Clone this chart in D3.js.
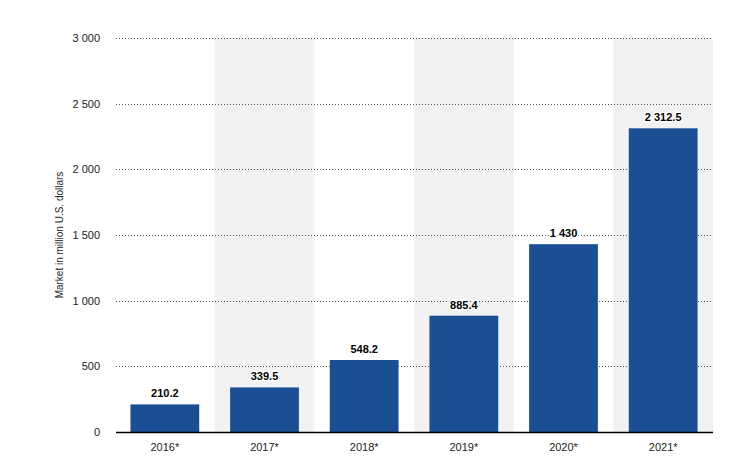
<!DOCTYPE html>
<html><head><meta charset="utf-8">
<script src="https://cdn.jsdelivr.net/npm/d3@7"></script>
<style>body{margin:0;background:#fff}svg{display:block}text{font-family:"Liberation Sans",Arial,sans-serif}</style>
</head><body><svg id="c" width="733" height="471"></svg>
<script>
const categories = ["2016*","2017*","2018*","2019*","2020*","2021*"];
const values = [210.2,339.5,548.2,885.4,1430,2312.5];
const valueLabels = ["210.2","339.5","548.2","885.4","1 430","2 312.5"];
const yTicks = [0,500,1000,1500,2000,2500,3000];
const yTickLabels = ["0","500","1 000","1 500","2 000","2 500","3 000"];
const yTitle = "Market in million U.S. dollars";

const svg = d3.select("#c");
const m = {l:115, r:20, t:38, b:39};
const W = 733, H = 471;
const x = d3.scaleBand().domain(categories).range([m.l, W-m.r]).paddingInner(0.31).paddingOuter(0.155);
const xb = d3.scaleBand().domain(categories).range([m.l, W-m.r]);
const y = d3.scaleLinear().domain([0,3000]).range([H-m.b, m.t]);

// alternating bands
svg.append("g").selectAll("rect").data(categories.filter((d,i)=>i%2===1)).join("rect")
  .attr("x", d=>xb(d)).attr("width", xb.bandwidth())
  .attr("y", y(3000)).attr("height", y(0)-y(3000)).attr("fill","#f2f2f2");

// grid
const yAxis = d3.axisLeft(y).tickValues(yTicks).tickFormat((d,i)=>yTickLabels[i]).tickSize(0).tickPadding(15);
const gy = svg.append("g").attr("transform",`translate(${m.l},0)`).call(yAxis);
gy.select(".domain").remove();
gy.selectAll("text").attr("font-size","11px").attr("fill","#222").attr("font-family","Liberation Sans, Arial, sans-serif");
svg.append("g").selectAll("line").data(yTicks.filter(d=>d>0)).join("line")
  .attr("x1", m.l+1).attr("x2", W-m.r).attr("y1", d=>Math.round(y(d))+0.5).attr("y2", d=>Math.round(y(d))+0.5)
  .attr("stroke","#555").attr("stroke-width",1).attr("stroke-dasharray","1,2");

// bars
svg.append("g").selectAll("rect").data(values).join("rect")
  .attr("x",(d,i)=>x(categories[i])).attr("width",x.bandwidth())
  .attr("y",d=>y(d)).attr("height",d=>y(0)-y(d)).attr("fill","#1b4f93");

// value labels
svg.append("g").selectAll("text").data(values).join("text")
  .attr("x",(d,i)=>x(categories[i])+x.bandwidth()/2).attr("y",d=>y(d)-7)
  .attr("text-anchor","middle").attr("font-size","11px").attr("font-weight","bold")
  .attr("fill","#000").attr("stroke","#fff").attr("stroke-width",3).attr("paint-order","stroke")
  .text((d,i)=>valueLabels[i]);

// x axis
const xAxis = d3.axisBottom(xb).tickSize(0).tickPadding(11);
const gx = svg.append("g").attr("transform",`translate(0,${y(0)})`).call(xAxis);
gx.select(".domain").attr("d",`M${m.l+1},0.5H${W-m.r}`).attr("stroke","#000").attr("stroke-width",1.5);
gx.selectAll("text").attr("font-size","11px").attr("fill","#222").attr("font-family","Liberation Sans, Arial, sans-serif");

// y title
svg.append("text").attr("transform",`translate(63,${(y(0)+y(3000))/2}) rotate(-90)`)
  .attr("text-anchor","middle").attr("font-size","10px").attr("fill","#222").text(yTitle);
</script></body></html>
